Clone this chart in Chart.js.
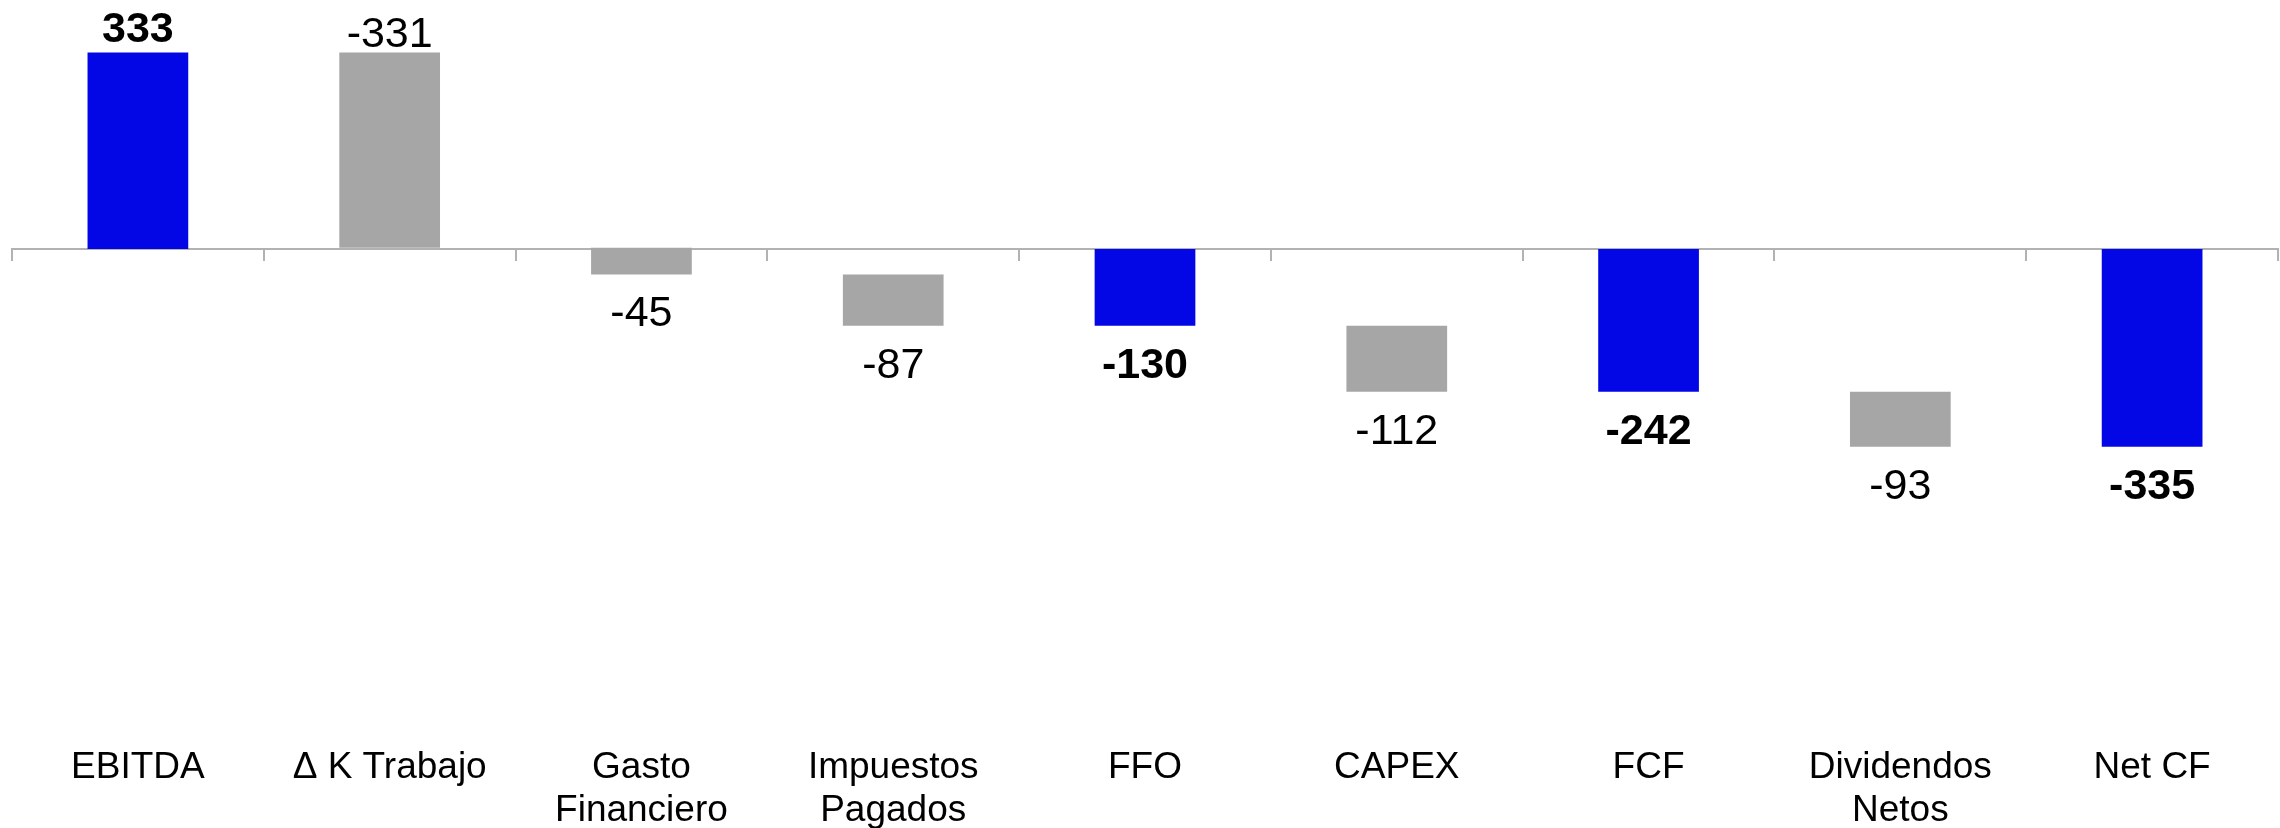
<!DOCTYPE html>
<html>
<head>
<meta charset="utf-8">
<script src="https://cdn.jsdelivr.net/npm/chart.js@4.4.0/dist/chart.umd.min.js"></script>
<style>
  html, body { margin: 0; padding: 0; background: #fff; }
  #wrap { width: 2280px; height: 828px; position: relative; }
</style>
</head>
<body>
<div id="wrap"><canvas id="myChart"></canvas></div>
<script>
// categories and values of the cash flow bridge
var categories = ['EBITDA', '\u0394 K Trabajo', ['Gasto', 'Financiero'], ['Impuestos', 'Pagados'],
  'FFO', 'CAPEX', 'FCF', ['Dividendos', 'Netos'], 'Net CF'];
var values = [333, -331, -45, -87, -130, -112, -242, -93, -335];
var isTotal = [true, false, false, false, true, false, true, false, true];

var blue = '#0307E6';
var grey = '#A6A6A6';
var axisGrey = '#B2B2B2';
var fontFamily = '"Liberation Sans", Arial, sans-serif';

// floating bars: totals start at zero, the rest hang from the running total
var ranges = [];
var running = 0;
for (var i = 0; i < values.length; i++) {
  if (isTotal[i]) {
    ranges.push([0, values[i]]);
    running = values[i];
  } else {
    ranges.push([running + values[i], running]);
    running = running + values[i];
  }
}
var barColors = isTotal.map(function (t) { return t ? blue : grey; });

// draws the value of each bar above or below it
var valueLabels = {
  id: 'valueLabels',
  afterDatasetsDraw: function (chart) {
    var ctx = chart.ctx;
    var meta = chart.getDatasetMeta(0);
    var yScale = chart.scales.y;
    ctx.save();
    ctx.fillStyle = '#000';
    ctx.textAlign = 'center';
    ctx.textBaseline = 'alphabetic';
    meta.data.forEach(function (bar, i) {
      var r = ranges[i];
      var hi = Math.max(r[0], r[1]);
      var lo = Math.min(r[0], r[1]);
      var bold = isTotal[i];
      ctx.font = (bold ? 'bold ' : '') + '43px ' + fontFamily;
      var y;
      if ((hi + lo) / 2 > 0) {
        y = yScale.getPixelForValue(hi) - (bold ? 11 : 6);
      } else {
        y = yScale.getPixelForValue(lo) + 52;
      }
      ctx.fillText(String(values[i]), bar.x, y);
    });
    ctx.restore();
  }
};

new Chart('myChart', {
  type: 'bar',
  data: {
    labels: categories,
    datasets: [{
      data: ranges,
      backgroundColor: barColors,
      borderWidth: 0,
      barPercentage: 0.4,
      categoryPercentage: 1.0,
      xAxisID: 'x',
      yAxisID: 'y'
    }]
  },
  options: {
    responsive: true,
    maintainAspectRatio: false,
    animation: false,
    layout: { padding: { left: 12, right: 2, top: 0, bottom: 0 } },
    plugins: {
      legend: { display: false },
      tooltip: { enabled: false },
      title: { display: false }
    },
    scales: {
      y: {
        display: false,
        min: -798,
        max: 422
      },
      x: {
        position: { y: 0 },
        offset: true,
        border: { display: true, color: axisGrey, width: 2 },
        grid: {
          display: true,
          offset: true,
          drawOnChartArea: false,
          drawTicks: true,
          tickLength: 11,
          color: axisGrey,
          lineWidth: 2
        },
        ticks: { display: false }
      },
      x2: {
        type: 'category',
        position: 'bottom',
        offset: true,
        border: { display: false },
        grid: { display: false, drawTicks: false },
        ticks: {
          color: '#000',
          padding: 26,
          maxRotation: 0,
          autoSkip: false,
          font: { family: fontFamily, size: 37, lineHeight: 1.17 }
        },
        afterFit: function (s) { s.height = 108; }
      }
    }
  },
  plugins: [valueLabels]
});
</script>
</body>
</html>
